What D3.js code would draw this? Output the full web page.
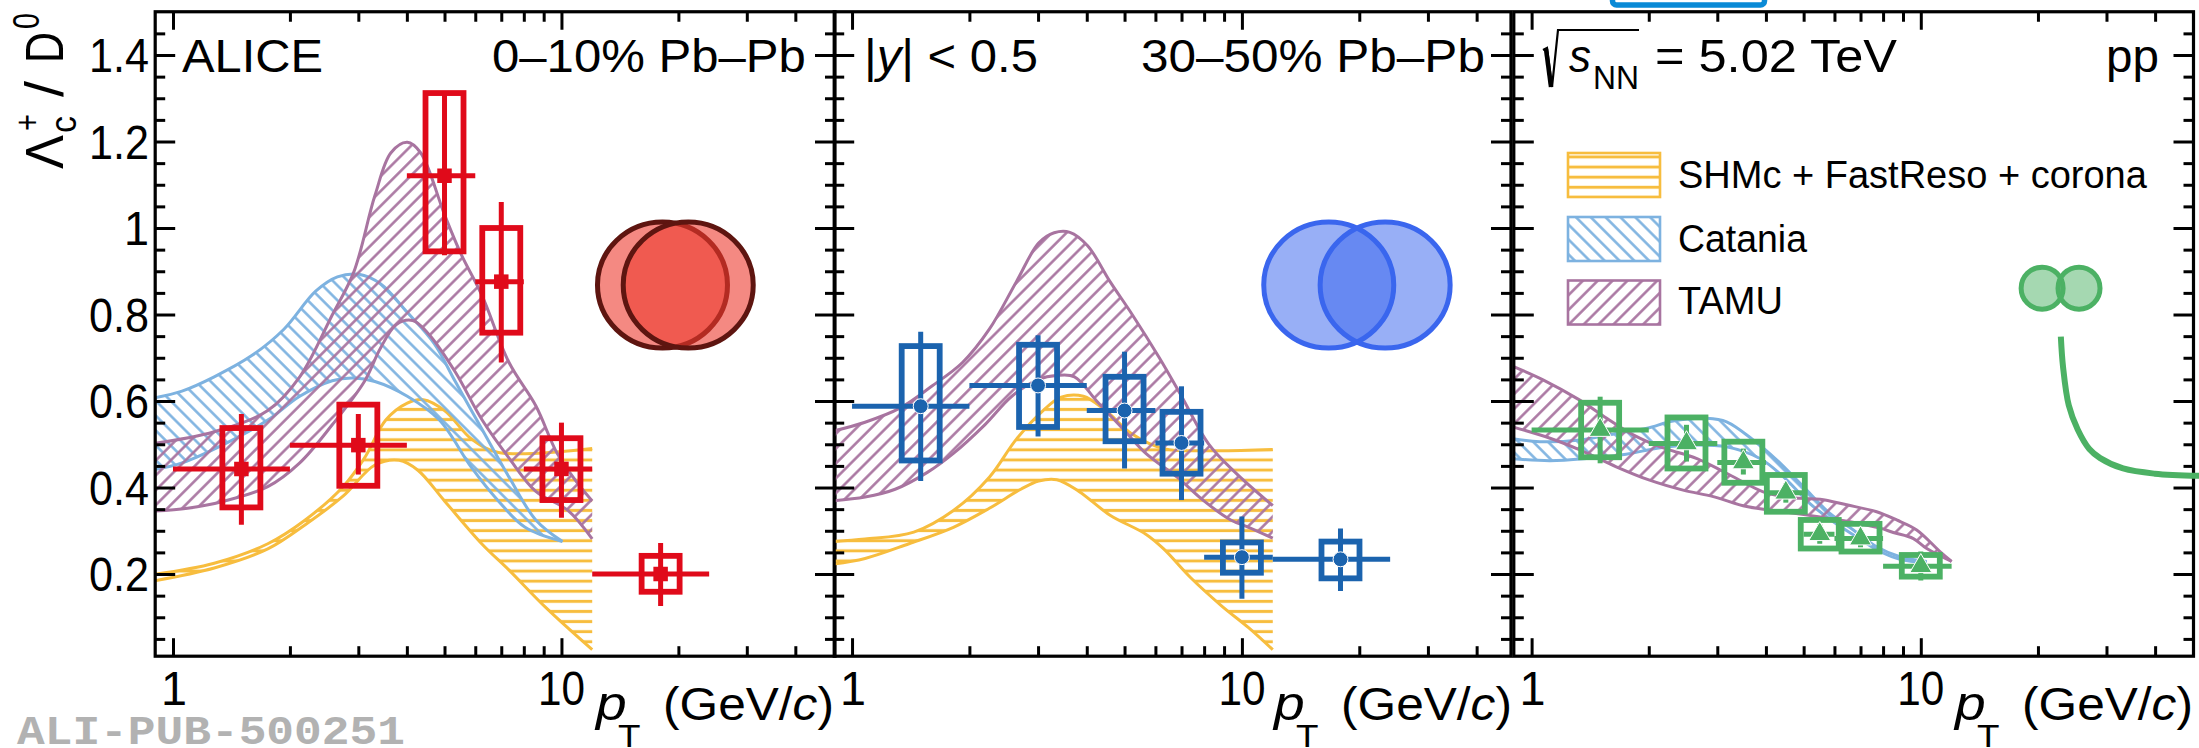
<!DOCTYPE html>
<html><head><meta charset="utf-8">
<script src="https://cdn.jsdelivr.net/npm/d3@7"></script>
<style>html,body{margin:0;padding:0;background:#fff;overflow:hidden}svg{display:block}text{font-family:"Liberation Sans",Arial,sans-serif;fill:#000}</style>
</head><body><svg id="c" width="2199" height="748"></svg>
<script>
// ---------- DATA (pT in GeV/c, ratio value) ----------
const yTickVals=[1.4,1.2,1,0.8,0.6,0.4,0.2];
const yTickLabels=["1.4","1.2","1","0.8","0.6","0.4","0.2"];
const yMinorVals=[0.05,0.1,0.15,0.25,0.3,0.35,0.45,0.5,0.55,0.65,0.7,0.75,0.85,0.9,0.95,1.05,1.1,1.15,1.25,1.3,1.35,1.45];
const xTickVals=[1,10];
const xMinorVals=[2,3,4,5,6,7,8,9,20,30,40];
const legendLabels=["SHMc + FastReso + corona","Catania","TAMU"];

// 0-10% Pb-Pb
const aa0_pt=[1.5,3,5,7,10,18];
const aa0_xlo=[1,2,4,6,8,12];
const aa0_xhi=[2,4,6,8,12,24];
const aa0_y=[0.443,0.498,1.121,0.876,0.443,0.2];
const aa0_statLo=[0.314,0.43,0.937,0.689,0.33,0.126];
const aa0_statHi=[0.57,0.57,1.31,1.06,0.55,0.272];
const aa0_sysLo=[0.354,0.404,0.946,0.758,0.371,0.159];
const aa0_sysHi=[0.5375,0.5916,1.312,1.0,0.514,0.242];
const tamu0_up=[[0.88,0.501],[1.277,0.529],[1.754,0.578],[2.12,0.656],[2.57,0.799],[2.92,0.898],[3.31,1.075],[3.64,1.174],[4.01,1.198],[4.34,1.174],[5,1.031],[5.5,0.942],[6.25,0.843],[7.33,0.689],[8.59,0.589],[9.75,0.479],[11.0,0.41],[12,0.369]];
const tamu0_lo=[[0.88,0.345],[1.09,0.352],[1.36,0.369],[1.754,0.402],[2.12,0.457],[2.57,0.545],[3.11,0.645],[3.42,0.722],[3.76,0.777],[4.14,0.786],[4.55,0.755],[5.33,0.667],[6.25,0.556],[7.33,0.468],[8.59,0.391],[10.39,0.347],[12,0.281]];
const cat0_up=[[0.88,0.606],[1.055,0.623],[1.277,0.656],[1.595,0.705],[1.93,0.766],[2.33,0.854],[2.65,0.887],[3.01,0.893],[3.42,0.871],[4.01,0.805],[4.7,0.733],[5.33,0.645],[6.25,0.534],[7.33,0.424],[8.59,0.325],[10.06,0.275]];
const cat0_lo=[[0.88,0.44],[1.055,0.457],[1.36,0.501],[1.754,0.556],[2.12,0.611],[2.57,0.647],[2.92,0.653],[3.31,0.645],[4.01,0.611],[4.85,0.556],[5.87,0.446],[6.88,0.369],[8.06,0.308],[10.06,0.275]];
const shm0_up=[[0.88,0.198],[1.277,0.225],[1.754,0.27],[2.19,0.325],[2.74,0.402],[3.11,0.468],[3.53,0.556],[4.01,0.595],[4.41,0.603],[5,0.578],[5.87,0.512],[6.88,0.481],[12,0.49]];
const shm0_lo=[[0.88,0.183],[1.277,0.214],[1.754,0.258],[2.19,0.314],[2.74,0.38],[3.31,0.452],[3.82,0.463],[4.27,0.44],[5,0.369],[6.25,0.269],[7.33,0.209],[9.15,0.121],[12,0.025]];

// 30-50% Pb-Pb
const aa1_pt=[1.5,3,5,7,10,17.9];
const aa1_xlo=[1,2,4,6,8,12];
const aa1_xhi=[2,4,6,8,12,24];
const aa1_y=[0.588,0.636,0.578,0.503,0.239,0.234];
const aa1_statLo=[0.415,0.518,0.444,0.371,0.143,0.161];
const aa1_statHi=[0.76,0.752,0.714,0.634,0.333,0.305];
const aa1_sysLo=[0.4625,0.54,0.507,0.432,0.203,0.19];
const aa1_sysHi=[0.727,0.73,0.656,0.575,0.273,0.275];
const tamu1_up=[[0.88,0.529],[1.08,0.551],[1.33,0.584],[1.6,0.634],[1.92,0.689],[2.25,0.766],[2.64,0.876],[3.01,0.965],[3.3,0.989],[3.62,0.99],[4.02,0.959],[4.59,0.876],[5.24,0.799],[6.14,0.7],[7,0.611],[8.21,0.501],[9.61,0.435],[12,0.358]];
const tamu1_lo=[[0.88,0.369],[1.08,0.378],[1.29,0.396],[1.56,0.435],[1.82,0.479],[2.19,0.545],[2.57,0.611],[3.01,0.65],[3.35,0.659],[3.72,0.656],[4.24,0.6],[4.97,0.534],[5.67,0.479],[6.82,0.424],[7.99,0.369],[9.36,0.325],[10.4,0.308],[12,0.283]];
const shm1_up=[[0.88,0.275],[1.08,0.281],[1.44,0.297],[1.82,0.347],[2.25,0.424],[2.64,0.512],[3.09,0.578],[3.44,0.609],[3.92,0.611],[4.47,0.578],[5.24,0.523],[6.3,0.49],[8.42,0.485],[12,0.488]];
const shm1_lo=[[0.88,0.222],[1.08,0.236],[1.4,0.27],[1.82,0.308],[2.25,0.352],[2.71,0.396],[3.01,0.415],[3.35,0.418],[3.82,0.391],[4.59,0.336],[5.67,0.292],[6.3,0.258],[7.38,0.192],[8.88,0.126],[10.4,0.076],[12,0.025]];

// pp
const pp_pt=[1.5,2.5,3.5,4.5,5.5,7,10];
const pp_xlo=[1,2,3,4,5,6,8];
const pp_xhi=[2,3,4,5,6,8,12];
const pp_y=[0.533,0.502,0.458,0.388,0.292,0.282,0.218];
const pp_statLo=[0.456,0.46,0.43,0.365,0.27,0.262,0.185];
const pp_statHi=[0.61,0.545,0.49,0.41,0.315,0.302,0.252];
const pp_sysLo=[0.47,0.444,0.411,0.344,0.259,0.252,0.194];
const pp_sysHi=[0.596,0.562,0.506,0.429,0.325,0.316,0.244];
const tamu2_up=[[0.88,0.683],[1.07,0.649],[1.33,0.602],[1.56,0.56],[1.83,0.521],[2.14,0.494],[2.66,0.467],[3.17,0.433],[4.02,0.387],[4.89,0.375],[5.51,0.373],[6.45,0.36],[7.7,0.344],[8.67,0.325],[9.76,0.302],[11.2,0.252],[12,0.229]];
const tamu2_lo=[[0.88,0.542],[1.115,0.514],[1.33,0.487],[1.65,0.448],[2.01,0.417],[2.45,0.394],[2.93,0.379],[3.57,0.356],[4.43,0.344],[5.4,0.333],[6.58,0.321],[7.86,0.306],[8.5,0.296],[9.57,0.282],[10.36,0.259],[12,0.229]];
const cat2_up=[[0.88,0.514],[1.05,0.506],[1.33,0.51],[1.65,0.525],[1.98,0.537],[2.31,0.554],[2.82,0.56],[3.17,0.552],[3.71,0.51],[4.26,0.464],[4.99,0.402],[5.84,0.34],[6.71,0.302],[7.7,0.263],[8.84,0.24],[10.36,0.229]];
const cat2_lo=[[0.88,0.467],[1.115,0.462],[1.385,0.467],[1.75,0.477],[2.1,0.491],[2.5,0.498],[3.17,0.494],[3.86,0.467],[4.43,0.425],[5.19,0.363],[5.96,0.321],[6.84,0.286],[7.86,0.252],[8.84,0.234],[10.36,0.226]];
const pp_curve=[[22.9,0.749],[23.2,0.679],[24.0,0.59],[25.3,0.534],[27.1,0.489],[28.9,0.468],[33.1,0.444],[39.9,0.432],[51.9,0.427]];

// overlap sketches, centres in axis units
const nuclei0_pt=[18.2,21.2], nuclei1_pt=[16.7,23.3], nucleiPP_pt=[20.5,25.5];
const nuclei_y=0.868, nucleiPP_y=0.861;

// ---------- STYLE / LAYOUT ----------
const cY="#f7bd3e",cB="#7db2e0",cP="#a874a0";
const svg=d3.select("#c");
const defs=svg.append("defs");
function pat(id,col,size,rot,w){
  const p=defs.append("pattern").attr("id",id).attr("patternUnits","userSpaceOnUse")
    .attr("width",size).attr("height",size).attr("patternTransform",rot);
  p.append("line").attr("x1",size/2).attr("x2",size/2).attr("y1",0).attr("y2",size).attr("stroke",col).attr("stroke-width",w);
}
pat("hY",cY,10.1,"translate(0,0.4) rotate(90)",3);
pat("hB",cB,10.5,"rotate(-45)",2.5);
pat("hP",cP,10.5,"rotate(45)",2.5);

const y=d3.scaleLinear().domain([0.01,1.5]).range([656.2,11.75]);
const panels=[
 {x:d3.scaleLog().domain([0.9,50.6]).range([155.2,835]),id:0},
 {x:d3.scaleLog().domain([0.9,49]).range([834.2,1511]),id:1},
 {x:d3.scaleLog().domain([0.9,50.2]).range([1513.8,2193.5]),id:2}
];

// helper for text: left x, baseline, target width
function txt(parent,x,yy,parts,size,width,opt={}){
  const t=parent.append("text").attr("font-size",size);
  if(opt.weight)t.attr("font-weight",opt.weight);
  if(opt.family)t.style("font-family",opt.family);
  (Array.isArray(parts)?parts:[parts]).forEach(p=>{
    const s=typeof p==="string"?{t:p}:p;
    const ts=t.append("tspan").text(s.t).style("white-space","pre");
    if(s.i)ts.attr("font-style","italic");
  });
  t.style("white-space","pre");
  const L=t.node().getComputedTextLength();
  const sx=width?width/L:1;
  t.attr("transform",`translate(${x},${yy})${opt.rot?` rotate(${opt.rot})`:""} scale(${sx},1)`);
  if(opt.fill)t.style("fill",opt.fill);
  return t;
}

const lineCurve=d3.line().x(d=>d.X).y(d=>d.Y).curve(d3.curveCatmullRom);
function band(g,x,up,lo,col,hatch){
  const U=up.map(d=>({X:x(d[0]),Y:y(d[1])}));
  const Lw=lo.map(d=>({X:x(d[0]),Y:y(d[1])}));
  const dU=lineCurve(U),dL=lineCurve(Lw.slice().reverse());
  g.append("path").attr("d",dU+"L"+dL.slice(1)+"Z").attr("fill",`url(#${hatch})`).attr("stroke","none");
  [dU,dL].forEach(d=>g.append("path").attr("d",d).attr("fill","none").attr("stroke",col).attr("stroke-width",3));
}

function points(g,x,s,col,sym,symSize,halo){
  const rows=s.pt.map((p,i)=>({p,xlo:s.xlo[i],xhi:s.xhi[i],v:s.y[i],sl:s.sl[i],sh:s.sh[i],bl:s.bl[i],bh:s.bh[i]}));
  const hw=19;
  g.selectAll("line.h").data(rows).join("line").attr("class","h").attr("x1",d=>x(d.xlo)).attr("x2",d=>x(d.xhi)).attr("y1",d=>y(d.v)).attr("y2",d=>y(d.v)).attr("stroke",col).attr("stroke-width",5);
  g.selectAll("line.v").data(rows).join("line").attr("class","v").attr("x1",d=>x(d.p)).attr("x2",d=>x(d.p)).attr("y1",d=>y(d.sl)).attr("y2",d=>y(d.sh)).attr("stroke",col).attr("stroke-width",5);
  g.selectAll("rect.b").data(rows).join("rect").attr("class","b").attr("x",d=>x(d.p)-hw).attr("width",2*hw).attr("y",d=>y(d.bh)).attr("height",d=>y(d.bl)-y(d.bh)).attr("fill","none").attr("stroke",col).attr("stroke-width",5.8);
  const gen=d3.symbol().type(sym).size(symSize);
  g.selectAll("path.m").data(rows).join("path").attr("class","m").attr("d",gen).attr("transform",d=>`translate(${x(d.p)},${y(d.v)})`).attr("fill",col).attr("stroke",halo?"#fff":"none").attr("stroke-width",halo?1:0);
}

// each outline is painted before the next translucent fill, so the inner arc of the first is tinted by the second
function ellipses(g,x,pts,yv,rx,ry,fill,stroke,sw,op){
  pts.forEach(p=>{
    g.append("ellipse").attr("cx",x(p)).attr("cy",y(yv)).attr("rx",rx).attr("ry",ry).attr("fill",fill).attr("fill-opacity",op).attr("stroke","none");
    g.append("ellipse").attr("cx",x(p)).attr("cy",y(yv)).attr("rx",rx).attr("ry",ry).attr("fill","none").attr("stroke",stroke).attr("stroke-width",sw);
  });
}

// top blue box (clipped at the page edge)
svg.append("rect").attr("x",1612.5).attr("y",-20).attr("width",152).attr("height",25).attr("rx",4).attr("fill","#fff").attr("stroke","#0a8ad6").attr("stroke-width",5.5);

panels.forEach(P=>{
  const x=P.x, X0=x.range()[0], X1=x.range()[1];
  const Y0=y.range()[0], Y1=y.range()[1];
  const g=svg.append("g");
  const cid="clip"+P.id;
  defs.append("clipPath").attr("id",cid).append("rect").attr("x",X0).attr("y",Y1).attr("width",X1-X0).attr("height",Y0-Y1);
  const cg=g.append("g").attr("clip-path",`url(#${cid})`);
  if(P.id===0){
    band(cg,x,shm0_up,shm0_lo,cY,"hY");band(cg,x,cat0_up,cat0_lo,cB,"hB");band(cg,x,tamu0_up,tamu0_lo,cP,"hP");
    ellipses(cg,x,nuclei0_pt,nuclei_y,65,63,"#ec3a2e","#5e1510",5,0.6);
    points(cg,x,{pt:aa0_pt,xlo:aa0_xlo,xhi:aa0_xhi,y:aa0_y,sl:aa0_statLo,sh:aa0_statHi,bl:aa0_sysLo,bh:aa0_sysHi},"#e00a1a",d3.symbolSquare,210,false);
  }
  if(P.id===1){
    band(cg,x,shm1_up,shm1_lo,cY,"hY");band(cg,x,tamu1_up,tamu1_lo,cP,"hP");
    ellipses(cg,x,nuclei1_pt,nuclei_y,65,63,"#3a66ee","#3a66ee",5,0.52);
    points(cg,x,{pt:aa1_pt,xlo:aa1_xlo,xhi:aa1_xhi,y:aa1_y,sl:aa1_statLo,sh:aa1_statHi,bl:aa1_sysLo,bh:aa1_sysHi},"#1b63ae",d3.symbolCircle,175,true);
  }
  if(P.id===2){
    band(cg,x,cat2_up,cat2_lo,cB,"hB");band(cg,x,tamu2_up,tamu2_lo,cP,"hP");
    ellipses(cg,x,nucleiPP_pt,nucleiPP_y,21,21,"#4cb164","#4cb164",5,0.5);
    points(cg,x,{pt:pp_pt,xlo:pp_xlo,xhi:pp_xhi,y:pp_y,sl:pp_statLo,sh:pp_statHi,bl:pp_sysLo,bh:pp_sysHi},"#4cb164",d3.symbolTriangle,210,true);
  }

  // ticks on all four sides
  const tick=(gen,tx,ty)=>{const a=g.append("g").attr("transform",`translate(${tx},${ty})`).call(gen);a.select(".domain").remove();a.selectAll("text").remove();a.selectAll("line").attr("stroke","#000").attr("stroke-width",3);};
  const fmt=()=>"";
  tick(d3.axisRight(y).tickValues(yTickVals).tickSize(20).tickFormat(fmt),X0,0);
  tick(d3.axisRight(y).tickValues(yMinorVals).tickSize(10).tickFormat(fmt),X0,0);
  tick(d3.axisLeft(y).tickValues(yTickVals).tickSize(20).tickFormat(fmt),X1,0);
  tick(d3.axisLeft(y).tickValues(yMinorVals).tickSize(10).tickFormat(fmt),X1,0);
  tick(d3.axisBottom(x).tickValues(xTickVals).tickSize(18).tickFormat(fmt),0,Y1);
  tick(d3.axisBottom(x).tickValues(xMinorVals).tickSize(10).tickFormat(fmt),0,Y1);
  tick(d3.axisTop(x).tickValues(xTickVals).tickSize(18).tickFormat(fmt),0,Y0);
  tick(d3.axisTop(x).tickValues(xMinorVals).tickSize(10).tickFormat(fmt),0,Y0);
  g.append("rect").attr("x",X0).attr("y",Y1).attr("width",X1-X0).attr("height",Y0-Y1).attr("fill","none").attr("stroke","#000").attr("stroke-width",3.2);

  // x tick labels
  xTickVals.forEach(v=>{
    const w=v===1?26:47;
    txt(g,x(v)-w/2+(v===1?1:0),705,String(v),48,w);
  });
});

// y tick labels
yTickVals.forEach((v,i)=>{
  const lab=yTickLabels[i];
  const w=lab.length===1?25:60;
  txt(svg,149-w,y(v)+17,lab,48,w);
});
// y title
const R={rot:-90};
txt(svg,63,169,"Λ",54,34,R);
txt(svg,76,133,"c",36,17,R);
txt(svg,39,131,"+",36,17,R);
txt(svg,63,97,"/",54,16,R);
txt(svg,63,63,"D",54,31,R);
txt(svg,39,29,"0",36,16,R);

// headers
txt(svg,182,72,"ALICE",46,141);
txt(svg,492,72,"0–10% Pb–Pb",46,314);
txt(svg,864,72,["|",{t:"y",i:1},"| < 0.5"],46,174);
txt(svg,1141,72,"30–50% Pb–Pb",46,344);
txt(svg,1569,72,[{t:"s",i:1}],46,22);
txt(svg,1593,89,"NN",34,46);
txt(svg,1655,72,"= 5.02 TeV",46,242);
txt(svg,2106,72,"pp",46,53);
svg.append("path").attr("d","M1543,50 L1547,48 L1552,87 L1558,30 L1639,30").attr("fill","none").attr("stroke","#000").attr("stroke-width",2.2);
svg.append("path").attr("d","M1546,49 L1551,87").attr("stroke","#000").attr("stroke-width",4.5);

// x titles: p with subscript T as one text
[597,1275,1956].forEach(x0=>{
  const t=svg.append("text").attr("font-size",48).attr("transform",`translate(${x0-1},720) scale(1.15,1)`);
  t.append("tspan").attr("font-style","italic").text("p");
  t.append("tspan").attr("font-size",32).attr("dx",-7.6).attr("dy",27).text("T");
  txt(svg,x0+66,720,["(GeV/",{t:"c",i:1},")"],46,171);
});

// legend
const legendHatch=["hY","hB","hP"],legendCol=[cY,cB,cP];
const legendWidth=[469,129,105];
const legendTop=[153,217,280.5];
const legendBase=[188,252,314];
legendLabels.forEach((l,i)=>{
  svg.append("rect").attr("x",1568).attr("y",legendTop[i]).attr("width",92).attr("height",44).attr("fill",`url(#${legendHatch[i]})`).attr("stroke",legendCol[i]).attr("stroke-width",2.6);
  txt(svg,1678,legendBase[i],l,39,legendWidth[i]);
});

// pp curve (drawn over the frame, up to the page edge)
const x3=panels[2].x;
svg.append("path").attr("d",d3.line().x(d=>x3(d[0])).y(d=>y(d[1])).curve(d3.curveCatmullRom)(pp_curve)).attr("fill","none").attr("stroke","#4cb164").attr("stroke-width",6);

// watermark
txt(svg,17,744,"ALI-PUB-500251",40,388,{fill:"#b2b2b2",weight:"bold",family:"'Liberation Mono',monospace"});
</script></body></html>
